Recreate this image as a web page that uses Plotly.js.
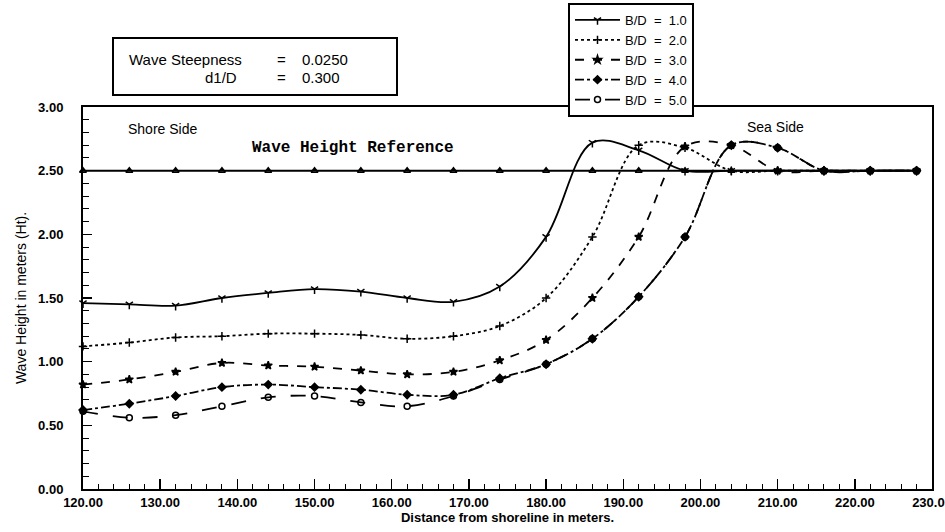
<!DOCTYPE html>
<html>
<head>
<meta charset="utf-8">
<script src="https://cdn.plot.ly/plotly-3.0.1.min.js"></script>
<style>html,body{margin:0;padding:0;background:#fff;}#chart{width:945px;height:532px;}</style>
</head>
<body>
<div id="chart"></div>
<script>
// ---- data ----
const distance = [120,126,132,138,144,150,156,162,168,174,180,186,192,198,204,210,216,222,228];
const bd1 = [1.46,1.45,1.44,1.50,1.54,1.57,1.55,1.50,1.47,1.59,1.98,2.72,2.66,2.50,2.50,2.50,2.50,2.50,2.50];
const bd2 = [1.12,1.15,1.19,1.20,1.22,1.22,1.21,1.18,1.20,1.28,1.50,1.98,2.70,2.68,2.50,2.50,2.50,2.50,2.50];
const bd3 = [0.82,0.86,0.92,0.99,0.97,0.96,0.93,0.90,0.92,1.01,1.17,1.50,1.98,2.69,2.70,2.50,2.50,2.50,2.50];
const bd4 = [0.62,0.67,0.73,0.80,0.82,0.80,0.78,0.74,0.74,0.87,0.98,1.18,1.51,1.98,2.70,2.68,2.50,2.50,2.50];
const bd5 = [0.61,0.56,0.58,0.65,0.72,0.73,0.68,0.65,0.73,0.86,0.98,1.18,1.51,1.98,2.70,2.68,2.50,2.50,2.50];
const waveRef = [2.50,2.50,2.50,2.50,2.50,2.50,2.50,2.50,2.50,2.50,2.50,2.50,2.50,2.50,2.50,2.50,2.50,2.50,2.50];
const seriesNames = ['B/D\u00a0\u00a0=\u00a0\u00a01.0','B/D\u00a0\u00a0=\u00a0\u00a02.0','B/D\u00a0\u00a0=\u00a0\u00a03.0','B/D\u00a0\u00a0=\u00a0\u00a04.0','B/D\u00a0\u00a0=\u00a0\u00a05.0'];
const seriesValues = [bd1, bd2, bd3, bd4, bd5];

// ---- styles ----
const dashes = ['solid','dot','dash','dashdot','longdash'];
const symbols = ['y-down-open','cross-thin-open','star','diamond','circle-open'];
const FONT = 'Liberation Sans, Arial, sans-serif';

const traces = [{
  x: distance, y: waveRef, type: 'scatter', mode: 'lines+markers',
  line: {color: '#000', width: 2},
  marker: {symbol: 'triangle-up-open', size: 6, color: '#000', line: {width: 1.5, color: '#000'}},
  showlegend: false, cliponaxis: false, hoverinfo: 'skip'
}];
seriesValues.forEach((vals, i) => {
  traces.push({
    x: distance, y: vals, type: 'scatter', mode: 'lines+markers', name: seriesNames[i],
    line: {color: '#000', width: 1.8, dash: dashes[i], shape: 'spline', smoothing: 1},
    marker: {symbol: symbols[i], size: 6, color: '#000', line: {width: 1.5, color: '#000'}},
    cliponaxis: false
  });
});

// pixel -> paper helpers (layout placement only)
const L = 83, R = 932, T = 107, B = 489;
const px = p => (p - L) / (R - L);
const py = p => (B - p) / (B - T);

const layout = {
  width: 945, height: 532,
  margin: {l: L, r: 945 - R, t: T, b: 532 - B, autoexpand: false},
  paper_bgcolor: '#fff', plot_bgcolor: '#fff',
  font: {family: FONT, color: '#000'},
  showlegend: true,
  legend: {
    x: px(568), y: py(3), xanchor: 'left', yanchor: 'top',
    bordercolor: '#000', borderwidth: 2, bgcolor: '#fff',
    font: {family: FONT, size: 13, color: '#000'},
    itemwidth: 45, tracegroupgap: 0
  },
  xaxis: {
    range: [120, 230], tick0: 120, dtick: 10, tickformat: '.2f',
    ticks: 'inside', ticklen: 10, tickwidth: 1.5, tickcolor: '#000',
    showline: true, linewidth: 2, linecolor: '#000', mirror: true,
    showgrid: false, zeroline: false, ticklabeloverflow: 'allow',
    minor: {dtick: 2, ticks: 'inside', ticklen: 5, tickwidth: 1, tickcolor: '#000', showgrid: false},
    tickfont: {family: FONT, size: 13, color: '#000', weight: 'bold'},
    title: {text: 'Distance from shoreline in meters.', font: {family: FONT, size: 13, color: '#000', weight: 'bold'}, standoff: 4}
  },
  yaxis: {
    range: [0, 3], tick0: 0, dtick: 0.5, tickformat: '.2f',
    ticks: 'inside', ticklen: 9, tickwidth: 1.5, tickcolor: '#000',
    showline: true, linewidth: 2, linecolor: '#000', mirror: true,
    showgrid: false, zeroline: false, ticklabeloverflow: 'allow',
    minor: {dtick: 0.1, ticks: 'inside', ticklen: 6, tickwidth: 1, tickcolor: '#000', showgrid: false},
    tickfont: {family: FONT, size: 13, color: '#000', weight: 'bold'},
    ticklabelstandoff: 15,
    title: {text: 'Wave Height in meters (Ht).', font: {family: FONT, size: 14, color: '#000'}, standoff: 8}
  },
  shapes: [{
    type: 'rect', xref: 'paper', yref: 'paper',
    x0: px(113), x1: px(397), y0: py(38), y1: py(95),
    line: {color: '#000', width: 2}, fillcolor: 'rgba(0,0,0,0)'
  }],
  annotations: [
    {text: 'Wave Steepness', xref: 'paper', yref: 'paper', x: px(127), y: py(60), xanchor: 'left', yanchor: 'middle', showarrow: false, font: {family: FONT, size: 15}},
    {text: '=', xref: 'paper', yref: 'paper', x: px(281), y: py(60), xanchor: 'center', yanchor: 'middle', showarrow: false, font: {family: FONT, size: 15}},
    {text: '0.0250', xref: 'paper', yref: 'paper', x: px(300), y: py(60), xanchor: 'left', yanchor: 'middle', showarrow: false, font: {family: FONT, size: 15}},
    {text: 'd1/D', xref: 'paper', yref: 'paper', x: px(203), y: py(78), xanchor: 'left', yanchor: 'middle', showarrow: false, font: {family: FONT, size: 15}},
    {text: '=', xref: 'paper', yref: 'paper', x: px(281), y: py(78), xanchor: 'center', yanchor: 'middle', showarrow: false, font: {family: FONT, size: 15}},
    {text: '0.300', xref: 'paper', yref: 'paper', x: px(300), y: py(78), xanchor: 'left', yanchor: 'middle', showarrow: false, font: {family: FONT, size: 15}},
    {text: 'Shore Side', xref: 'paper', yref: 'paper', x: px(126), y: py(129), xanchor: 'left', yanchor: 'middle', showarrow: false, font: {family: FONT, size: 14}},
    {text: '<b>Wave Height Reference</b>', xref: 'paper', yref: 'paper', x: px(250), y: py(148), xanchor: 'left', yanchor: 'middle', showarrow: false, font: {family: 'Liberation Mono, Courier New, monospace', size: 16}},
    {text: 'Sea Side', xref: 'paper', yref: 'paper', x: px(745), y: py(127), xanchor: 'left', yanchor: 'middle', showarrow: false, font: {family: FONT, size: 14}}
  ]
};

Plotly.newPlot('chart', traces, layout, {displayModeBar: false, staticPlot: true});
</script>
</body>
</html>
